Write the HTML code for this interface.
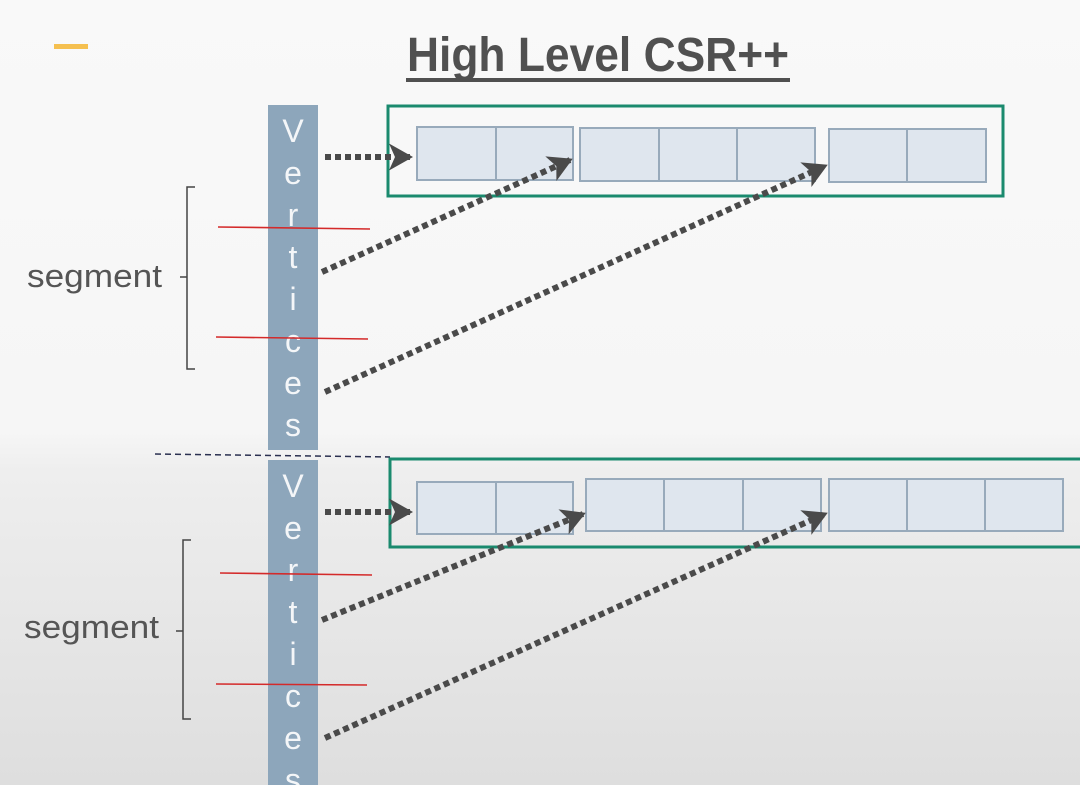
<!DOCTYPE html>
<html><head><style>
html,body{margin:0;padding:0;width:1080px;height:785px;overflow:hidden}
svg{display:block}
text{font-family:"Liberation Sans",sans-serif}
</style></head><body>
<svg width="1080" height="785" viewBox="0 0 1080 785" xmlns="http://www.w3.org/2000/svg">
<defs>
<linearGradient id="bg" x1="0" y1="0" x2="0" y2="1">
<stop offset="0" stop-color="#f9f9f9"/><stop offset="0.55" stop-color="#f6f6f6"/><stop offset="0.6" stop-color="#eeeeee"/><stop offset="1" stop-color="#dedede"/>
</linearGradient>
<marker id="ah" viewBox="0 0 10 10" refX="8" refY="5" markerWidth="5" markerHeight="5" orient="auto" markerUnits="strokeWidth"><path d="M1,0.5 L9,5 L1,9.5 L3,5 Z" fill="#4a4a4a"/></marker>
</defs>
<rect width="1080" height="785" fill="url(#bg)"/>
<rect x="54" y="44" width="34" height="5" fill="#f5c050"/>
<text x="598" y="71" font-size="48" font-weight="bold" fill="#505050" text-anchor="middle" textLength="382" lengthAdjust="spacingAndGlyphs">High Level CSR++</text>
<rect x="406" y="78" width="384" height="4" fill="#505050"/>

<rect x="268" y="105" width="50" height="345" fill="#8da6bb"/>
<rect x="268" y="460" width="50" height="325" fill="#8da6bb"/>
<g fill="#f4f6f8" font-size="32" text-anchor="middle">
<text x="293" y="142">V</text><text x="293" y="184">e</text><text x="293" y="226">r</text><text x="293" y="268">t</text><text x="293" y="310">i</text><text x="293" y="352">c</text><text x="293" y="394">e</text><text x="293" y="436">s</text>
<text x="293" y="497">V</text><text x="293" y="539">e</text><text x="293" y="581">r</text><text x="293" y="623">t</text><text x="293" y="665">i</text><text x="293" y="707">c</text><text x="293" y="749">e</text><text x="293" y="791">s</text>
</g>
<line x1="155" y1="454" x2="390" y2="457" stroke="#2a3050" stroke-width="1.5" stroke-dasharray="6,4"/>

<rect x="388" y="106" width="615" height="90" fill="none" stroke="#1a8a6e" stroke-width="3"/>
<rect x="390" y="459" width="700" height="88" fill="none" stroke="#1a8a6e" stroke-width="3"/>

<g fill="#dfe6ee" stroke="#98aabb" stroke-width="2">
<rect x="417" y="127" width="156" height="53"/><line x1="496" y1="127" x2="496" y2="180"/>
<rect x="580" y="128" width="235" height="53"/><line x1="659" y1="128" x2="659" y2="181"/><line x1="737" y1="128" x2="737" y2="181"/>
<rect x="829" y="129" width="157" height="53"/><line x1="907" y1="129" x2="907" y2="182"/>
<rect x="417" y="482" width="156" height="52"/><line x1="496" y1="482" x2="496" y2="534"/>
<rect x="586" y="479" width="235" height="52"/><line x1="664" y1="479" x2="664" y2="531"/><line x1="743" y1="479" x2="743" y2="531"/>
<rect x="829" y="479" width="234" height="52"/><line x1="907" y1="479" x2="907" y2="531"/><line x1="985" y1="479" x2="985" y2="531"/>
</g>

<g stroke="#4a4a4a" stroke-width="6" stroke-dasharray="6,4" fill="none" marker-end="url(#ah)">
<line x1="325" y1="157" x2="410" y2="157"/>
<line x1="322" y1="272" x2="570" y2="160"/>
<line x1="325" y1="392" x2="825" y2="166"/>
<line x1="325" y1="512" x2="410" y2="512"/>
<line x1="322" y1="620" x2="583" y2="514"/>
<line x1="325" y1="738" x2="825" y2="514"/>
</g>

<g stroke="#d42a2a" stroke-width="1.6">
<line x1="218" y1="227" x2="370" y2="229"/>
<line x1="216" y1="337" x2="368" y2="339"/>
<line x1="220" y1="573" x2="372" y2="575"/>
<line x1="216" y1="684" x2="367" y2="685"/>
</g>

<g stroke="#444" stroke-width="1.5" fill="none">
<path d="M195,187 H187 V369 H195 M187,277 H180"/>
<path d="M191,540 H183 V719 H191 M183,631 H176"/>
</g>
<g fill="#555" font-size="32">
<text x="27" y="287" textLength="135" lengthAdjust="spacingAndGlyphs">segment</text>
<text x="24" y="638" textLength="135" lengthAdjust="spacingAndGlyphs">segment</text>
</g>
</svg>
</body></html>
